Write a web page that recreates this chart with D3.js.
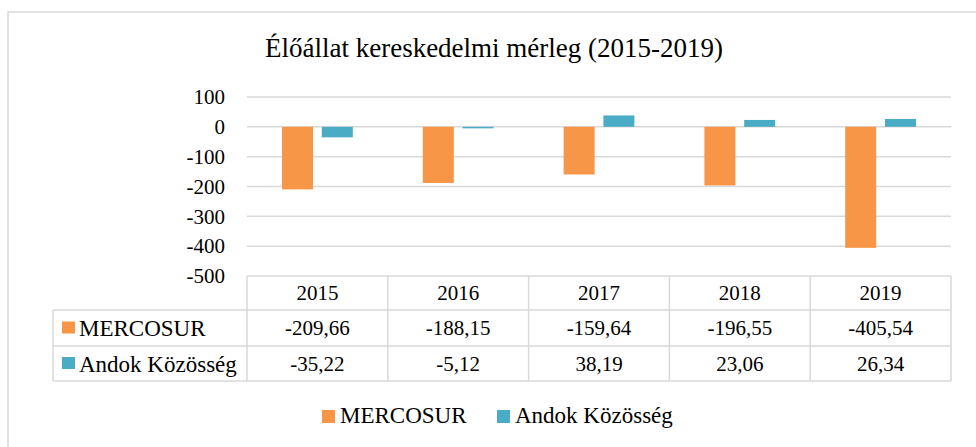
<!DOCTYPE html>
<html lang="hu">
<head>
  <meta charset="UTF-8">
  <title>Élőállat kereskedelmi mérleg (2015-2019)</title>
  <script src="https://d3js.org/d3.v7.min.js"></script>
  <style>
    body {
      margin: 0;
      background: #fff;
    }
    svg, svg text {
      font-family: "Liberation Serif", "Times New Roman", "DejaVu Serif", serif !important;
      fill: #000;
    }
  </style>
</head>
<body>

<svg width="976" height="447"></svg>

<script>
// data
const years = ["2015", "2016", "2017", "2018", "2019"];
const seriesNames = ["MERCOSUR", "Andok Közösség"];
const mercosur = [-209.66, -188.15, -159.64, -196.55, -405.54];
const andok = [-35.22, -5.12, 38.19, 23.06, 26.34];
const yTicks = [100, 0, -100, -200, -300, -400, -500];
const colors = ["#F79646", "#4BACC6"];

const seriesValues = [mercosur, andok];

const width = 976, height = 447;
const plotLeft = 247, plotRight = 951;
const plotTop = 97, plotBottom = 276;
const gridColor = "#D9D9D9";
const serif = '"Liberation Serif", "Times New Roman", serif';

const svg = d3.select("svg")
  .attr("width", width)
  .attr("height", height)
  .attr("font-family", serif);

// outer frame (runs off the right and bottom edge, like the source)
svg.append("rect")
  .attr("x", 8).attr("y", 12)
  .attr("width", width + 10).attr("height", height + 10)
  .attr("fill", "none")
  .attr("stroke", gridColor)
  .attr("stroke-width", 1.5);

// title
svg.append("text")
  .attr("x", 494)
  .attr("y", 57)
  .attr("text-anchor", "middle")
  .style("font-size", "27px")
  .text("Élőállat kereskedelmi mérleg (2015-2019)");

const y = d3.scaleLinear()
  .domain([-500, 100])
  .range([plotBottom, plotTop]);

const x0 = d3.scaleBand()
  .domain(years)
  .range([plotLeft, plotRight]);

const x1 = d3.scaleBand()
  .domain(seriesNames)
  .range([35, x0.bandwidth() - 35])
  .paddingInner(0.22);

// gridlines
svg.append("g")
  .selectAll("line")
  .data(yTicks.filter(t => t !== -500))
  .enter().append("line")
  .attr("x1", plotLeft)
  .attr("x2", plotRight)
  .attr("y1", d => y(d))
  .attr("y2", d => y(d))
  .attr("stroke", gridColor)
  .attr("stroke-width", 1.5);

// y axis labels
const yAxis = d3.axisLeft(y)
  .tickValues(yTicks)
  .tickSize(0)
  .tickPadding(0)
  .tickFormat(d => d);

svg.append("g")
  .attr("transform", `translate(225,0)`)
  .call(yAxis)
  .attr("font-family", serif)
  .call(g => g.select(".domain").remove())
  .selectAll("text")
  .style("font-size", "21px")
  .attr("dy", "0.32em");

// bars
const rows = [];
years.forEach((yr, i) => {
  seriesNames.forEach((s, j) => {
    rows.push({ year: yr, series: s, value: seriesValues[j][i], color: colors[j] });
  });
});

svg.append("g")
  .selectAll("rect")
  .data(rows)
  .enter().append("rect")
  .attr("x", d => x0(d.year) + x1(d.series))
  .attr("width", x1.bandwidth())
  .attr("y", d => y(Math.max(0, d.value)))
  .attr("height", d => Math.abs(y(d.value) - y(0)))
  .attr("fill", d => d.color);

// data table below the plot
const tableLeft = 53;
const rowLines = [276, 310, 346, 381];
const table = svg.append("g");

// horizontal rules
table.selectAll(".hrule")
  .data(rowLines)
  .enter().append("line")
  .attr("x1", (d, i) => i === 0 ? plotLeft : tableLeft)
  .attr("x2", plotRight)
  .attr("y1", d => d)
  .attr("y2", d => d)
  .attr("stroke", gridColor)
  .attr("stroke-width", 1.5);

// vertical rules
const colEdges = years.map(yr => x0(yr)).concat([plotRight]);
table.selectAll(".vrule")
  .data(colEdges)
  .enter().append("line")
  .attr("x1", d => d).attr("x2", d => d)
  .attr("y1", rowLines[0]).attr("y2", rowLines[3])
  .attr("stroke", gridColor)
  .attr("stroke-width", 1.5);

table.append("line")
  .attr("x1", tableLeft).attr("x2", tableLeft)
  .attr("y1", rowLines[1]).attr("y2", rowLines[3])
  .attr("stroke", gridColor)
  .attr("stroke-width", 1.5);

// header years
table.selectAll(".yearLabel")
  .data(years)
  .enter().append("text")
  .attr("x", d => x0(d) + x0.bandwidth() / 2)
  .attr("y", (rowLines[0] + rowLines[1]) / 2)
  .attr("dy", "0.35em")
  .attr("text-anchor", "middle")
  .style("font-size", "21px")
  .text(d => d);

const fmt = v => v.toFixed(2).replace(".", ",");

seriesNames.forEach((s, j) => {
  const rowMid = (rowLines[j + 1] + rowLines[j + 2]) / 2;

  table.append("rect")
    .attr("x", 62).attr("y", rowMid - 6.5)
    .attr("width", 13).attr("height", 12)
    .attr("fill", colors[j]);

  table.append("text")
    .attr("x", 79)
    .attr("y", rowMid)
    .attr("dy", "0.35em")
    .style("font-size", "23px")
    .text(s);

  table.selectAll(".val" + j)
    .data(seriesValues[j])
    .enter().append("text")
    .attr("x", (d, i) => x0(years[i]) + x0.bandwidth() / 2)
    .attr("y", rowMid)
    .attr("dy", "0.35em")
    .attr("text-anchor", "middle")
    .style("font-size", "21px")
    .text(d => fmt(d));
});

// legend
const legendItems = [
  { name: seriesNames[0], color: colors[0], x: 322 },
  { name: seriesNames[1], color: colors[1], x: 497 }
];

const legend = svg.append("g");
legendItems.forEach(item => {
  legend.append("rect")
    .attr("x", item.x).attr("y", 410)
    .attr("width", 13).attr("height", 13)
    .attr("fill", item.color);
  legend.append("text")
    .attr("x", item.x + 18)
    .attr("y", 423)
    .style("font-size", "23px")
    .text(item.name);
});
</script>

</body>
</html>
